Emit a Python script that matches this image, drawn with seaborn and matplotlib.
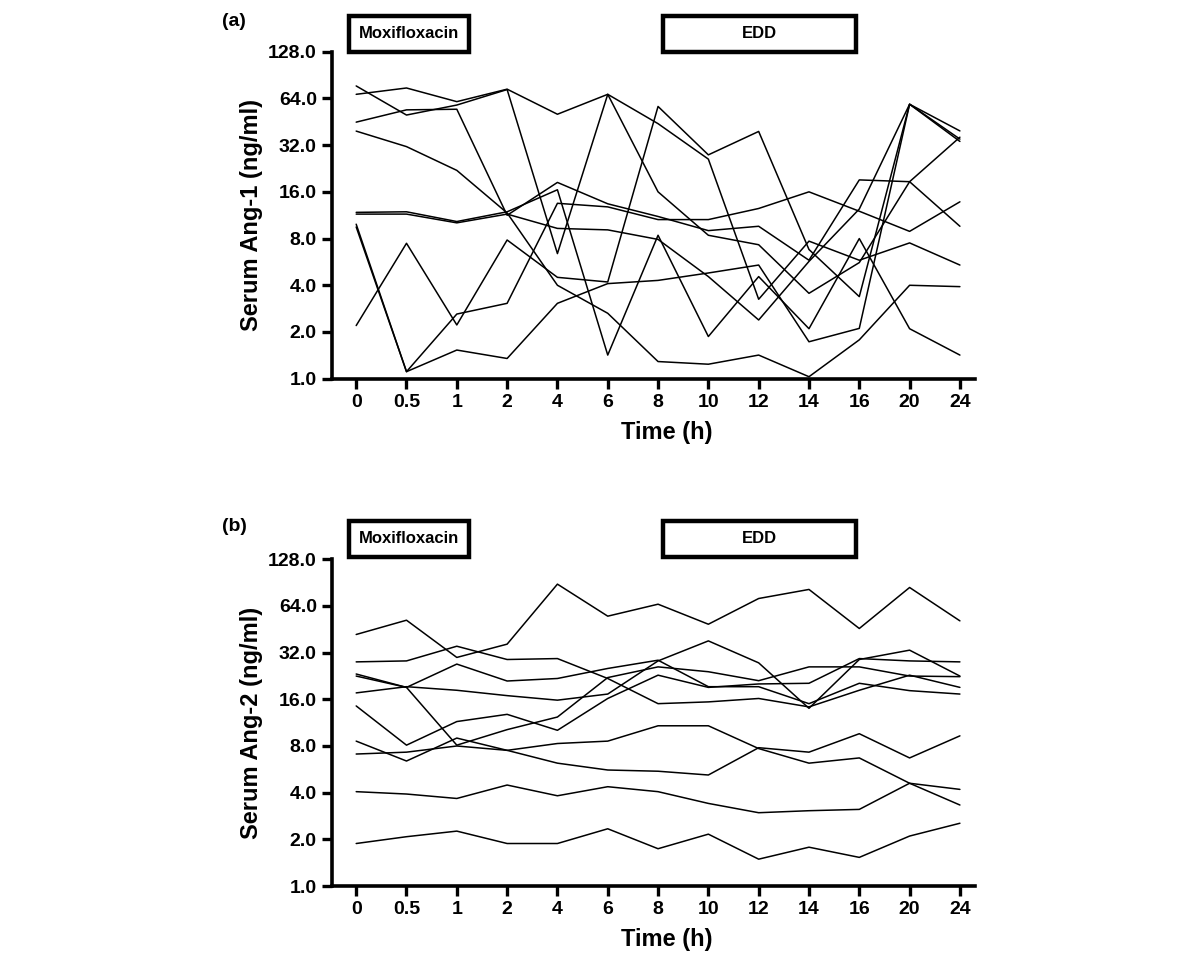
import pandas as pd
import numpy as np
import matplotlib.pyplot as plt
import seaborn as sns
from matplotlib.patches import Rectangle

# tempos de coleta (eixo x categórico)
tempos = ['0', '0.5', '1', '2', '4', '6', '8', '10', '12', '14', '16', '20', '24']

# (a) Ang-1 sérico (ng/ml), um vetor por voluntário
ang1_v1 = [68, 74.7, 61, 73.4, 50.6, 68, 44, 26, 3.25, 7.7, 5.8, 7.5, 5.4]
ang1_v2 = [77, 50, 58, 73, 6.4, 68, 16, 8.4, 7.3, 3.55, 5.6, 18.6, 36]
ang1_v3 = [45, 54, 54.5, 11.3, 18.4, 13.4, 11.1, 9.0, 9.6, 5.8, 19.1, 18.6, 9.6]
ang1_v4 = [39.4, 31.3, 22, 11.7, 4.0, 2.64, 1.29, 1.24, 1.42, 1.03, 1.78, 4.0, 3.92]
ang1_v5 = [11.8, 11.9, 10.3, 11.9, 16.5, 1.42, 8.4, 1.87, 4.55, 2.1, 8.0, 2.1, 1.42]
ang1_v6 = [11.5, 11.5, 10.1, 11.5, 9.3, 9.1, 7.9, 4.55, 2.39, 5.7, 12.4, 58.7, 39.5]
ang1_v7 = [2.2, 7.46, 2.22, 7.83, 4.5, 4.2, 56.8, 27.7, 39.2, 6.8, 3.38, 58.7, 33.8]
ang1_v8 = [9.9, 1.11, 2.61, 3.06, 13.5, 12.8, 10.6, 10.6, 12.5, 16, 12.0, 8.9, 13.8]
ang1_v9 = [9.5, 1.11, 1.53, 1.35, 3.06, 4.1, 4.3, 4.8, 5.4, 1.73, 2.11, 58.7, 35]

# (b) Ang-2 sérico (ng/ml)
ang2_v1 = [41.9, 51.8, 29.8, 36.3, 88.5, 55.0, 65.7, 48.8, 71.5, 81.8, 45.8, 84.2, 51.3]
ang2_v2 = [27.9, 28.3, 35.2, 28.9, 29.3, 21.8, 15.0, 15.4, 16.2, 14.3, 18.3, 22.9, 19.1]
ang2_v3 = [22.6, 19.1, 27.0, 21.0, 21.8, 25.3, 28.6, 19.3, 19.3, 15.0, 20.3, 18.2, 17.3]
ang2_v4 = [17.6, 19.3, 18.3, 16.9, 15.8, 17.3, 28.3, 38.1, 27.5, 14.0, 28.9, 33.2, 22.6]
ang2_v5 = [23.3, 19.1, 8.1, 10.2, 12.3, 22.1, 25.9, 24.1, 21.1, 25.9, 25.9, 22.6, 22.4]
ang2_v6 = [14.5, 8.1, 11.5, 12.8, 10.1, 16.2, 22.9, 19.1, 20.1, 20.3, 29.3, 28.3, 27.9]
ang2_v7 = [8.6, 6.4, 9.0, 7.5, 8.3, 8.6, 10.8, 10.8, 7.7, 6.2, 6.7, 4.6, 3.33]
ang2_v8 = [7.1, 7.3, 8.0, 7.5, 6.2, 5.6, 5.5, 5.2, 7.8, 7.3, 9.6, 6.7, 9.3]
ang2_v9 = [4.06, 3.92, 3.67, 4.48, 3.82, 4.37, 4.06, 3.41, 2.97, 3.06, 3.12, 4.6, 4.2]
ang2_v10 = [1.88, 2.08, 2.26, 1.88, 1.88, 2.34, 1.74, 2.16, 1.49, 1.78, 1.53, 2.10, 2.54]

ang1 = [ang1_v1, ang1_v2, ang1_v3, ang1_v4, ang1_v5, ang1_v6, ang1_v7, ang1_v8, ang1_v9]
ang2 = [ang2_v1, ang2_v2, ang2_v3, ang2_v4, ang2_v5, ang2_v6, ang2_v7, ang2_v8,
        ang2_v9, ang2_v10]

y_ticks = [1, 2, 4, 8, 16, 32, 64, 128]


def montar_df(series):
    linhas = []
    for i, serie in enumerate(series):
        for pos, valor in enumerate(serie):
            linhas.append({'voluntario': i, 'pos': pos, 'valor': valor})
    return pd.DataFrame(linhas)


sns.set_style('ticks')
plt.rcParams['font.family'] = ['Liberation Sans Narrow', 'Liberation Sans', 'DejaVu Sans']
plt.rcParams['font.weight'] = 'bold'
# tudo em preto, como no original
for chave in ['text.color', 'axes.labelcolor', 'xtick.color', 'ytick.color', 'axes.edgecolor']:
    plt.rcParams[chave] = 'black'

fig = plt.figure(figsize=(12, 9.59), dpi=100)
ax_a = fig.add_axes([0.2767, 0.6051, 0.5358, 0.341])
ax_b = fig.add_axes([0.2767, 0.0761, 0.5358, 0.3407])


def desenhar(ax, series, ylabel):
    df = montar_df(series)
    sns.lineplot(data=df, x='pos', y='valor', units='voluntario', estimator=None,
                 color='black', linewidth=1.1, legend=False, ax=ax)
    ax.set_yscale('log', base=2)
    ax.set_ylim(1, 128)
    ax.set_yticks(y_ticks)
    ax.set_yticklabels([f'{t:.1f}' for t in y_ticks])
    ax.minorticks_off()
    ax.set_xlim(-0.48, 12.3)
    ax.set_xticks(range(len(tempos)))
    ax.set_xticklabels(tempos)
    for lado in ['top', 'right']:
        ax.spines[lado].set_visible(False)
    for lado in ['left', 'bottom']:
        ax.spines[lado].set_linewidth(2.6)
        ax.spines[lado].set_color('black')
    ax.tick_params(direction='out', length=7, width=2.4, labelsize=14, pad=4,
                   colors='black')
    for lab in ax.get_xticklabels() + ax.get_yticklabels():
        lab.set_fontweight('bold')
    ax.set_xlabel('Time (h)', fontsize=17, fontweight='bold', color='black')
    ax.set_ylabel(ylabel, fontsize=17, fontweight='bold', color='black')
    ax.xaxis.set_label_coords(0.52, -0.128)
    ax.yaxis.set_label_coords(-0.108, 0.5)


desenhar(ax_a, ang1, 'Serum Ang-1 (ng/ml)')
desenhar(ax_b, ang2, 'Serum Ang-2 (ng/ml)')

# caixas de tratamento e rótulos dos painéis
for y0, letra in [(0.9458, '(a)'), (0.4192, '(b)')]:
    fig.patches.append(Rectangle((0.2905, y0), 0.1003, 0.0375, transform=fig.transFigure,
                                 fill=False, edgecolor='black', linewidth=3.2))
    fig.text(0.3407, y0 + 0.0188, 'Moxifloxacin', ha='center', va='center',
             fontsize=12, fontweight='bold', color='black')
    fig.patches.append(Rectangle((0.5525, y0), 0.1605, 0.0375, transform=fig.transFigure,
                                 fill=False, edgecolor='black', linewidth=3.2))
    fig.text(0.6328, y0 + 0.0188, 'EDD', ha='center', va='center',
             fontsize=12, fontweight='bold', color='black')
    fig.text(0.185, y0 + 0.032, letra, ha='left', va='center',
             fontsize=14, fontweight='bold', color='black')

plt.savefig('out.png', dpi=100)
